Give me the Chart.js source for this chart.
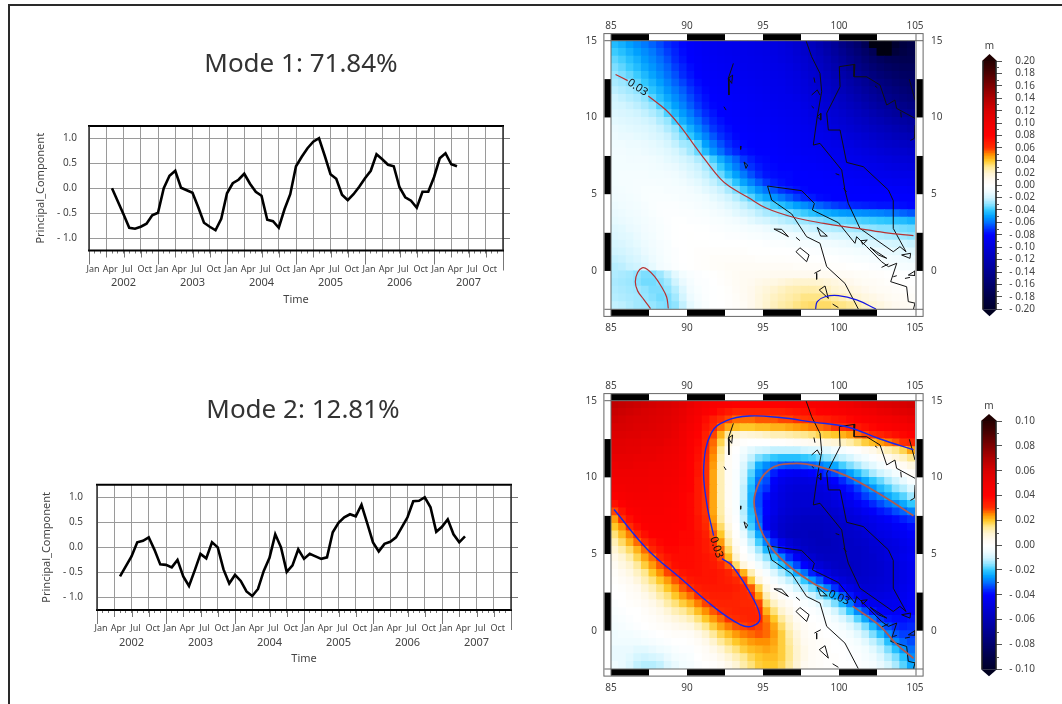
<!doctype html>
<html><head><meta charset="utf-8">
<script src="https://cdn.jsdelivr.net/npm/chart.js@4"></script>
<style>
html,body{margin:0;padding:0;background:#fff;width:1062px;height:704px;overflow:hidden}
canvas{position:absolute;display:block}
#frame{position:absolute;left:8px;top:4px;width:1100px;height:800px;border:2px solid #2a2a2a}
</style></head><body>
<div id="frame"></div>
<canvas id="pc1" width="602" height="280" style="left:0;top:40px"></canvas>
<canvas id="pc2" width="606" height="294" style="left:0;top:386px"></canvas>
<canvas id="map1" width="365" height="330" style="left:580px;top:10px"></canvas>
<canvas id="map2" width="365" height="330" style="left:580px;top:370px"></canvas>
<canvas id="bar1" width="92" height="290" style="left:970px;top:35px"></canvas>
<canvas id="bar2" width="92" height="290" style="left:970px;top:395px"></canvas>
<script>
// ---------- line chart data ----------
const titles = ["Mode 1: 71.84%", "Mode 2: 12.81%"];
const monthNames = ["Jan", "Apr", "Jul", "Oct"];
const years = [2002, 2003, 2004, 2005, 2006, 2007];
const pcTicks = [-1, -0.5, 0, 0.5, 1];
const firstMonth = 4;
const mode1PC = [0,-0.26,-0.52,-0.79,-0.81,-0.77,-0.71,-0.54,-0.49,0,0.25,0.35,0.01,-0.04,-0.09,-0.38,-0.69,-0.77,-0.84,-0.61,-0.1,0.1,0.17,0.29,0.09,-0.07,-0.15,-0.63,-0.66,-0.79,-0.42,-0.12,0.44,0.63,0.8,0.93,1,0.65,0.28,0.19,-0.13,-0.24,-0.12,0.03,0.2,0.35,0.68,0.58,0.47,0.44,0.02,-0.18,-0.25,-0.39,-0.07,-0.07,0.22,0.6,0.7,0.48,0.44];
const mode2PC = [-0.58,-0.38,-0.18,0.1,0.13,0.2,-0.05,-0.34,-0.35,-0.4,-0.25,-0.58,-0.77,-0.46,-0.13,-0.22,0.1,0,-0.44,-0.72,-0.55,-0.67,-0.88,-0.97,-0.83,-0.47,-0.21,0.26,0,-0.49,-0.36,-0.04,-0.23,-0.13,-0.18,-0.23,-0.2,0.3,0.49,0.6,0.66,0.62,0.85,0.48,0.1,-0.08,0.07,0.11,0.2,0.4,0.6,0.92,0.93,1,0.8,0.31,0.41,0.56,0.26,0.1,0.22];

// ---------- map axes ----------
const lonTicks = [85, 90, 95, 100, 105];
const latTicks = [0, 5, 10, 15];
const stripLon = [85, 87.5, 90, 92.5, 95, 97.5, 100, 102.5, 105];
const stripLat = [-2.5, 0, 2.5, 5, 7.5, 10, 12.5, 15];

// ---------- eigenvector grids (mm), rows north to south from 14.75 to -2.25, columns 85.25 to 104.75 ----------
const mode1Grid = [
[-43,-46,-50,-54,-58,-62,-66,-71,-75,-79,-82,-84,-86,-87,-88,-89,-90,-91,-92,-93,-94,-95,-97,-100,-104,-109,-115,-121,-128,-135,-145,-152,-160,-172,-205,-210,-210,-195,-185,-180],
[-39,-42,-46,-50,-54,-58,-63,-68,-73,-78,-81,-83,-85,-86,-87,-88,-89,-90,-91,-92,-93,-94,-96,-98,-102,-107,-112,-118,-125,-132,-140,-148,-155,-163,-172,-205,-205,-188,-182,-178],
[-35,-38,-42,-46,-51,-55,-60,-65,-71,-76,-80,-82,-84,-85,-86,-87,-88,-89,-90,-91,-92,-93,-95,-97,-100,-104,-109,-114,-120,-127,-135,-142,-149,-156,-163,-168,-172,-174,-175,-175],
[-32,-35,-39,-43,-48,-52,-57,-62,-68,-73,-78,-81,-83,-84,-85,-86,-87,-88,-89,-90,-91,-92,-93,-95,-98,-102,-106,-111,-117,-123,-130,-137,-144,-150,-156,-161,-165,-168,-170,-170],
[-29,-32,-35,-39,-44,-49,-54,-60,-65,-71,-76,-80,-82,-83,-84,-85,-86,-87,-88,-89,-90,-91,-92,-94,-96,-100,-104,-108,-113,-119,-125,-131,-138,-144,-150,-155,-159,-162,-165,-166],
[-26,-28,-31,-35,-40,-45,-50,-56,-62,-67,-73,-78,-81,-82,-83,-84,-85,-86,-87,-88,-89,-90,-91,-93,-95,-98,-102,-106,-110,-115,-120,-126,-132,-138,-144,-149,-153,-157,-160,-162],
[-23,-25,-27,-30,-35,-41,-46,-52,-58,-63,-69,-75,-79,-81,-82,-83,-84,-85,-86,-87,-88,-89,-90,-92,-94,-97,-100,-104,-108,-112,-117,-122,-127,-133,-138,-143,-147,-151,-155,-158],
[-20,-22,-24,-26,-30,-36,-42,-48,-54,-60,-66,-72,-77,-80,-81,-82,-83,-84,-85,-86,-87,-88,-89,-90,-92,-95,-98,-101,-105,-109,-113,-118,-123,-128,-133,-138,-142,-146,-150,-153],
[-18,-19,-21,-23,-26,-30,-37,-43,-50,-56,-63,-69,-75,-79,-80,-81,-82,-83,-84,-85,-86,-87,-88,-89,-90,-93,-96,-99,-102,-106,-110,-114,-118,-123,-128,-132,-136,-140,-144,-147],
[-16,-17,-18,-20,-22,-25,-29,-37,-44,-51,-58,-65,-71,-76,-80,-81,-82,-83,-84,-85,-85,-86,-87,-88,-89,-91,-94,-97,-100,-103,-106,-110,-114,-118,-122,-126,-130,-134,-137,-140],
[-14,-15,-16,-17,-19,-21,-25,-29,-38,-46,-53,-60,-67,-73,-77,-80,-81,-82,-83,-84,-84,-85,-86,-87,-88,-90,-92,-95,-97,-100,-103,-106,-110,-113,-117,-120,-124,-127,-130,-133],
[-12,-13,-14,-15,-16,-18,-21,-25,-30,-38,-46,-54,-62,-69,-74,-78,-80,-81,-82,-83,-83,-84,-85,-86,-87,-88,-90,-92,-95,-97,-100,-103,-106,-109,-112,-115,-118,-121,-124,-127],
[-11,-12,-12,-13,-14,-16,-18,-21,-26,-32,-40,-48,-56,-64,-70,-75,-79,-80,-81,-82,-82,-83,-84,-85,-86,-87,-88,-90,-92,-94,-96,-99,-101,-104,-107,-110,-113,-116,-118,-120],
[-10,-10,-11,-11,-12,-13,-15,-18,-22,-27,-29,-37,-50,-58,-65,-71,-76,-79,-80,-81,-81,-82,-83,-84,-85,-86,-87,-88,-90,-92,-93,-95,-98,-100,-102,-105,-107,-109,-111,-113],
[-9,-9,-10,-10,-11,-12,-13,-15,-18,-22,-27,-34,-43,-52,-60,-67,-72,-77,-79,-80,-80,-81,-82,-83,-84,-85,-85,-86,-88,-89,-90,-92,-94,-96,-98,-100,-102,-104,-105,-107],
[-8,-8,-9,-9,-9,-10,-11,-13,-15,-18,-21,-25,-30,-38,-47,-55,-62,-69,-74,-78,-79,-80,-81,-82,-82,-83,-84,-85,-86,-87,-88,-90,-91,-93,-94,-96,-97,-99,-100,-101],
[-8,-8,-8,-8,-8,-9,-10,-11,-12,-15,-18,-21,-26,-32,-40,-49,-57,-64,-70,-75,-78,-79,-80,-80,-81,-82,-82,-83,-84,-85,-86,-87,-89,-90,-91,-92,-94,-95,-96,-97],
[-8,-7,-7,-7,-7,-8,-8,-9,-10,-12,-15,-18,-22,-27,-34,-42,-50,-58,-65,-71,-76,-78,-79,-79,-80,-80,-81,-81,-82,-83,-84,-85,-86,-87,-88,-89,-90,-91,-92,-92],
[-8,-7,-7,-6,-6,-6,-7,-7,-8,-10,-12,-14,-18,-22,-27,-33,-41,-49,-56,-63,-69,-74,-77,-79,-80,-80,-80,-80,-81,-81,-82,-82,-83,-84,-85,-85,-86,-87,-87,-88],
[-9,-8,-7,-6,-5,-5,-5,-6,-6,-7,-9,-11,-14,-17,-21,-26,-32,-39,-46,-53,-59,-65,-70,-74,-77,-79,-80,-80,-80,-80,-80,-81,-81,-81,-82,-82,-82,-83,-83,-84],
[-10,-9,-8,-7,-5,-4,-4,-4,-5,-6,-7,-8,-10,-13,-16,-20,-24,-30,-36,-43,-48,-53,-58,-63,-68,-72,-75,-78,-79,-80,-80,-80,-80,-80,-80,-80,-80,-80,-81,-81],
[-11,-10,-9,-8,-6,-4,-3,-3,-3,-4,-5,-6,-8,-10,-12,-15,-18,-22,-26,-30,-34,-38,-42,-46,-50,-54,-58,-62,-65,-68,-70,-72,-73,-74,-75,-76,-76,-77,-78,-79],
[-12,-11,-10,-9,-7,-5,-3,-2,-2,-3,-3,-4,-5,-7,-9,-11,-14,-17,-20,-23,-26,-28,-30,-33,-36,-39,-42,-45,-47,-49,-51,-52,-53,-54,-55,-56,-58,-60,-62,-64],
[-13,-12,-11,-10,-8,-6,-4,-2,-1,-1,-2,-2,-3,-4,-5,-7,-9,-11,-14,-17,-19,-21,-23,-25,-27,-28,-30,-31,-33,-34,-35,-36,-37,-38,-39,-40,-41,-42,-43,-45],
[-15,-14,-12,-11,-9,-7,-5,-3,-1,0,0,-1,-1,-2,-3,-4,-5,-6,-8,-9,-11,-13,-15,-16,-18,-20,-21,-23,-24,-25,-26,-27,-28,-29,-30,-31,-31,-32,-33,-34],
[-16,-15,-14,-12,-10,-8,-5,-3,-1,0,1,0,0,-1,-1,-2,-2,-3,-4,-5,-6,-7,-8,-9,-10,-12,-13,-14,-16,-17,-18,-20,-21,-22,-23,-25,-26,-27,-28,-30],
[-18,-17,-15,-13,-11,-9,-6,-4,-1,0,1,1,1,0,0,0,0,0,-1,-1,-2,-3,-3,-4,-5,-6,-7,-8,-9,-10,-11,-12,-14,-15,-16,-17,-18,-19,-20,-21],
[-20,-19,-17,-15,-12,-10,-7,-4,-2,0,1,2,2,2,2,2,2,2,1,1,1,0,0,0,-1,-1,-2,-3,-4,-5,-6,-7,-8,-9,-10,-11,-12,-13,-14,-15],
[-22,-21,-19,-17,-14,-11,-8,-5,-2,0,1,2,3,4,4,4,4,4,4,3,3,3,3,2,2,1,1,0,0,-1,-2,-3,-4,-5,-6,-7,-8,-9,-10,-11],
[-24,-23,-21,-20,-17,-13,-9,-6,-3,-1,1,2,3,4,5,6,6,6,6,6,6,6,6,6,5,5,4,4,3,2,2,1,0,-1,-2,-3,-4,-5,-6,-7],
[-25,-26,-27,-30,-32,-32,-28,-22,-14,-8,-4,-2,-1,1,3,5,7,8,8,9,9,10,10,10,10,10,10,9,9,8,7,6,5,4,3,2,1,0,-1,-2],
[-26,-27,-28,-31,-33,-33,-31,-27,-20,-12,-7,-3,-2,0,2,4,7,9,10,12,13,14,16,18,20,20,20,19,17,15,13,11,9,7,6,5,3,2,1,0],
[-25,-26,-27,-28,-30,-32,-32,-30,-24,-16,-9,-5,-2,-1,1,3,6,9,11,14,17,20,22,24,25,26,26,25,22,19,17,15,13,11,9,7,6,4,3,2],
[-24,-25,-26,-27,-29,-31,-33,-32,-27,-19,-11,-6,-3,-1,1,2,5,8,11,15,19,22,24,26,28,31,31,31,30,27,24,21,18,15,13,11,9,7,6,5],
[-22,-23,-25,-27,-28,-29,-31,-32,-30,-22,-13,-8,-4,-1,0,2,4,7,11,15,20,23,26,28,31,33,34,34,34,32,31,29,26,22,18,15,12,10,8,7]
];
const mode2Grid = [
[66,65,64,63,62,61,60,59,57,55,52,49,46,44,43,42,41,40,40,40,40,41,41,42,42,43,44,45,46,47,49,50,52,54,55,57,58,59,60,61],
[64,63,62,61,60,59,58,57,55,53,50,47,43,40,37,35,33,33,33,33,33,34,34,35,36,37,38,40,41,43,44,46,47,49,50,52,53,55,56,57],
[62,61,60,59,59,58,57,56,54,52,48,44,38,34,31,29,27,27,27,28,28,28,29,29,30,31,32,33,34,36,37,39,41,43,44,46,47,49,50,52],
[60,60,59,58,58,57,56,55,53,50,46,42,36,32,27,23,21,20,20,21,21,22,22,23,24,25,26,27,28,30,31,33,35,37,39,41,42,44,45,47],
[58,58,57,57,56,56,55,54,52,49,44,40,34,29,22,14,10,8,9,10,11,12,12,13,14,15,16,18,19,20,22,24,27,29,31,33,35,37,39,41],
[56,56,55,55,54,54,54,52,51,48,43,39,33,27,18,8,3,1,0,0,0,1,1,2,3,4,5,6,8,9,11,13,16,19,21,24,26,28,30,32],
[55,55,54,54,53,53,52,51,50,47,42,38,32,26,15,4,0,-4,-7,-9,-10,-11,-11,-11,-11,-10,-9,-8,-7,-5,-3,-1,1,4,6,9,12,15,18,23],
[53,53,53,52,52,52,51,50,49,46,41,37,31,25,13,3,-1,-6,-11,-16,-18,-20,-21,-21,-21,-20,-19,-17,-15,-13,-11,-9,-6,-4,-1,2,5,8,11,15],
[51,52,52,51,51,50,50,49,48,45,40,36,30,24,12,3,-1,-8,-15,-23,-27,-30,-32,-33,-33,-32,-31,-29,-26,-24,-19,-16,-13,-10,-7,-4,-1,1,4,7],
[50,50,50,50,50,49,49,48,47,44,40,36,30,23,12,3,-2,-9,-18,-27,-31,-37,-40,-42,-43,-42,-40,-38,-35,-33,-29,-25,-21,-17,-13,-10,-7,-4,-1,2],
[48,49,49,49,49,48,48,47,46,43,40,35,30,23,12,3,-2,-10,-20,-30,-33,-41,-45,-47,-48,-48,-47,-45,-43,-40,-36,-32,-28,-24,-20,-17,-13,-10,-6,-2],
[46,47,48,48,48,47,47,46,45,42,40,35,30,23,12,3,-2,-11,-22,-32,-35,-43,-47,-49,-50,-50,-50,-49,-47,-45,-41,-38,-34,-30,-26,-22,-19,-15,-12,-8],
[43,45,46,47,47,46,46,45,44,41,39,35,30,23,12,3,-2,-11,-23,-33,-39,-45,-48,-50,-51,-51,-51,-50,-49,-47,-44,-41,-38,-34,-31,-28,-24,-21,-18,-14],
[37,41,44,45,45,45,45,44,43,40,39,35,30,23,13,3,-2,-12,-23,-33,-40,-46,-49,-51,-52,-52,-52,-52,-51,-49,-47,-45,-42,-39,-36,-33,-30,-27,-24,-20],
[29,36,41,43,44,44,44,43,42,40,39,35,30,23,13,4,-2,-12,-22,-32,-40,-46,-50,-52,-53,-54,-54,-54,-53,-52,-50,-48,-46,-43,-41,-38,-36,-33,-31,-28],
[24,30,37,41,43,43,43,43,42,40,39,36,31,24,14,5,-1,-11,-21,-31,-42,-48,-52,-54,-55,-56,-56,-56,-55,-54,-52,-50,-49,-47,-45,-43,-41,-39,-37,-35],
[20,25,31,37,41,42,42,42,41,40,39,36,32,26,17,7,0,-9,-19,-29,-42,-49,-53,-55,-56,-57,-57,-57,-56,-55,-54,-53,-51,-49,-47,-45,-44,-42,-41,-39],
[16,21,26,31,37,40,41,41,41,39,39,37,34,28,20,10,1,-6,-15,-24,-35,-46,-53,-56,-57,-57,-58,-58,-57,-56,-55,-54,-53,-51,-49,-47,-46,-44,-43,-41],
[12,17,22,27,31,36,39,40,40,39,39,37,35,31,24,13,3,-3,-11,-19,-28,-36,-44,-50,-54,-56,-57,-58,-58,-57,-56,-55,-54,-53,-51,-50,-48,-47,-45,-43],
[9,13,17,22,27,32,36,39,39,38,38,37,35,32,27,17,6,0,-7,-14,-22,-30,-38,-45,-50,-54,-56,-57,-57,-57,-56,-55,-55,-54,-52,-51,-49,-48,-46,-44],
[6,9,13,18,23,27,32,36,38,38,38,37,36,34,29,21,10,2,-3,-9,-15,-21,-28,-35,-42,-48,-52,-55,-56,-56,-56,-55,-55,-54,-53,-51,-49,-47,-45,-43],
[4,7,10,14,19,24,28,33,37,38,38,37,36,35,32,28,17,8,2,-4,-9,-15,-21,-27,-33,-40,-46,-50,-53,-55,-56,-56,-55,-54,-53,-52,-50,-48,-46,-44],
[2,5,7,11,15,20,25,29,33,36,37,37,36,36,35,33,29,22,12,3,-3,-8,-13,-18,-24,-30,-37,-43,-48,-52,-54,-55,-55,-54,-53,-52,-50,-48,-46,-44],
[1,3,5,8,12,16,20,24,28,31,35,36,36,36,35,34,32,29,19,8,2,-3,-7,-11,-15,-20,-26,-32,-39,-45,-49,-52,-53,-53,-52,-51,-50,-48,-46,-44],
[0,1,3,5,9,12,16,20,24,28,31,34,35,35,35,35,34,32,28,18,7,2,-2,-5,-9,-13,-17,-22,-28,-35,-41,-46,-49,-51,-51,-50,-49,-47,-45,-43],
[0,0,2,3,6,9,13,16,20,24,27,30,33,34,34,34,33,32,31,24,12,6,2,-1,-3,-6,-10,-14,-19,-25,-32,-38,-44,-47,-48,-48,-47,-46,-44,-42],
[-1,0,1,2,4,6,9,13,16,19,22,26,29,32,33,33,33,32,32,29,17,11,6,3,0,-2,-4,-7,-11,-16,-22,-29,-36,-41,-44,-45,-45,-44,-43,-41],
[-2,-1,0,0,2,4,6,9,12,14,17,21,25,28,31,32,33,33,33,32,22,16,10,6,2,0,-1,-3,-5,-9,-14,-20,-27,-33,-38,-41,-42,-42,-41,-40],
[-3,-2,-1,0,1,2,4,6,8,10,12,16,20,24,27,30,31,32,33,33,26,20,14,9,4,1,0,-1,-2,-5,-8,-12,-18,-24,-30,-35,-38,-39,-39,-38],
[-4,-3,-2,-1,0,1,2,3,5,6,7,11,15,19,23,26,28,29,30,29,27,23,17,11,6,3,1,0,-1,-2,-4,-7,-11,-16,-22,-28,-33,-36,-37,-36],
[-5,-4,-4,-3,-2,-1,0,1,2,2,3,6,10,14,18,21,24,26,27,28,27,24,19,13,8,4,2,1,0,-1,-2,-4,-7,-11,-16,-21,-27,-32,-34,-34],
[-5,-5,-5,-5,-4,-3,-2,-1,0,0,1,3,6,10,14,17,20,22,24,25,25,23,19,14,9,5,3,2,1,0,-1,-2,-4,-7,-11,-15,-21,-27,-31,-33],
[-6,-6,-6,-7,-7,-6,-5,-4,-2,-1,-1,1,3,6,9,13,16,19,21,22,23,22,19,15,10,6,3,2,1,0,0,-1,-2,-4,-7,-11,-16,-21,-26,-30],
[-6,-6,-7,-9,-10,-9,-8,-6,-4,-3,-2,0,2,3,6,9,12,15,18,20,21,21,19,15,10,6,3,2,1,1,0,-1,-1,-3,-5,-8,-12,-16,-21,-27],
[-5,-6,-8,-11,-12,-12,-11,-8,-6,-4,-3,-1,0,1,3,6,9,13,16,19,20,20,18,14,9,5,3,2,1,1,0,0,-1,-2,-3,-6,-9,-13,-18,-24]
];

// ---------- coastlines, null breaks the line ----------
const coastLon = [95.3,95.57,96.89,97.87,98.75,99.19,100.39,101.27,null,
95.3,97.54,98.38,98.25,99.96,101.05,101.16,101.82,102.8,103.25,103.8,103.4,104.45,104.56,105,104.9,null,
97.83,98.2,98.75,98.86,98.57,98.31,98.75,100.18,100.39,100.61,101.38,103.57,104.01,104.41,103.57,103.57,103.25,101.6,100.5,100.07,99.3,99.19,100.07,100.02,101.05,100.99,101.82,102.7,103.14,103.68,103.79,105,null,
93.05,92.72,92.76,null,92.72,93,92.94,92.72,null,92.43,92.57,null,93.55,93.53,null,93.75,93.99,93.88,93.75,null,
104.63,105,null,105,104.96,104.7,null,98.35,98.42,null,98.2,98.57,98.75,null,98.2,98.35,null,98.57,98.8,98.8,98.57,null,102.37,102.52,null,104.06,104.1,null,99.78,100.02,null,100.29,100.5,null,
95.72,96.23,96.67,96.12,95.72,null,97.17,97.43,null,98.57,99.23,98.79,98.57,null,97.17,97.43,98.03,97.87,97.17,null,98.38,98.8,null,98.53,98.53,null,98.7,99.08,99.3,98.7,null,99.58,99.96,null,
101.45,101.86,101.56,101.45,null,102.04,102.48,103.14,102.59,102.04,null,104.12,104.71,104.67,104.12,null,104.56,105,105,104.56,null,102.8,103.25,null,104.34,104.67,null,103.57,103.8];
const coastLat = [5.53,4.62,3.71,2.23,1.8,0.28,-0.81,-2.48,null,
5.53,5.23,4.4,3.97,3.14,1.8,2.23,1.58,0.6,0.28,0.5,-0.7,-1.03,-2,-2.1,-2.48,null,
15,13.96,12.87,11.68,10.05,8.2,8.31,6.57,5.27,4.4,2.77,1.25,1.58,1.25,2.77,4.58,5.27,6.79,7.07,9.18,9.18,10.27,12,13.31,13.46,12.65,12.65,12.11,10.81,11.13,10.59,9.94,null,
13.52,12.55,11.46,null,12.55,12.76,12.22,12.55,null,10.7,10.48,null,8.14,7.92,null,7.1,6.9,6.68,7.1,null,
12.48,11.13,null,9.5,8.64,8.5,null,12.6,12.26,null,11.46,11.79,11.46,null,10.74,10.6,null,10.05,10.27,9.83,10.05,null,12.05,11.94,null,10.37,10,null,6.34,6.25,null,5.38,5.16,null,
2.73,2.71,2.23,2.53,2.73,null,2.19,1.97,null,2.84,2.27,2.27,2.84,null,1.25,1.51,1.04,0.6,1.25,null,-0.16,0.06,null,-0.16,-0.55,null,-1.24,-0.98,-1.79,-1.24,null,-2.16,-2.39,null,
1.97,2.01,1.73,1.97,null,1.54,1.25,0.82,1.04,1.54,null,1.04,1.15,0.82,1.04,null,-0.27,0,-0.3,-0.27,null,0.23,0.45,null,-0.49,-0.42,null,-0.38,-0.31];

// ---------- contours ----------
const m1RedLon = [85.3,86.1,null,87.45,88.6,89.5,90.4,91.3,92.2,92.8,94,95.2,97,99,101,103,104.9,null,87.6,87.15,86.75,86.6,86.75,87.05,87.4,87.9,88.3,88.66,88.77];
const m1RedLat = [12.8,12.4,null,11.4,10.5,9.5,8.3,7.1,6,5.5,4.8,4.1,3.5,3.1,2.8,2.5,2.3,null,-2.45,-1.85,-1.3,-0.7,-0.1,0.2,0.1,-0.4,-1,-1.7,-2.45];
const m1BlueLon = [98.46,98.57,99.08,99.96,101.16,102.43];
const m1BlueLat = [-2.48,-2,-1.68,-1.61,-1.89,-2.48];
const m2BlueLon = [85.2,87.4,89.6,91.7,93.5,94.3,94.8,94.4,93,92.3,null,91.75,91.3,91.1,91.6,92.6,94.1,96.1,98.3,100.5,102.7,104.9];
const m2BlueLat = [7.9,5.3,3.4,1.6,0.4,0.3,0.8,2,4.2,4.7,null,6.2,8.3,10.7,12.9,13.7,14,13.9,13.6,13.3,12.5,11.8];
const m2RedLon = [104.9,102.7,100.5,98.7,97,95.4,94.5,94.5,95.2,96.5,98.3,99.3,null,100.9,102.7,103.8,104.9];
const m2RedLat = [7.5,8.9,10.1,10.7,10.9,10.5,9,7.7,5.9,4.4,3.1,2.6,null,1.6,0.3,-0.9,-1.8];
const m1Labels = [{text:"0.03", lon:86.75, lat:11.95, angle:33}];
const m2Labels = [{text:"0.03", lon:91.93, lat:5.43, angle:72},{text:"0.03", lon:100, lat:2.15, angle:24}];

// ---------- colour bars ----------
const unitLabel = "m";
const bar1Ticks = [-0.2,-0.18,-0.16,-0.14,-0.12,-0.1,-0.08,-0.06,-0.04,-0.02,0,0.02,0.04,0.06,0.08,0.1,0.12,0.14,0.16,0.18,0.2];
const bar2Ticks = [-0.1,-0.08,-0.06,-0.04,-0.02,0,0.02,0.04,0.06,0.08,0.1];
const stopVals = [-1,-0.9,-0.8,-0.7,-0.6,-0.5,-0.4,-0.35,-0.3,-0.25,-0.2,-0.15,-0.1,-0.05,0,0.05,0.1,0.15,0.2,0.25,0.3,0.4,0.5,0.6,0.7,0.8,0.9,1];
const stopCols = ["#000028","#000048","#00006c","#000090","#0000b4","#0000d8","#0000ff","#0030ff","#0070ff","#00a0ff","#30c8ff","#90e4ff","#d0f4ff","#f0fcff","#ffffff","#fffaf0","#fff4d0","#ffe890","#ffc828","#ff9000","#ff3000","#ff0000","#f00000","#d80000","#b00000","#800000","#4d0000","#280000"];

const FONT = '"Noto Sans","Open Sans","DejaVu Sans",sans-serif';
const INK = "#444";
Chart.defaults.font.family = FONT;
Chart.defaults.color = INK;
Chart.defaults.animation = false;
Chart.defaults.events = [];
Chart.defaults.plugins.legend.display = false;
Chart.defaults.plugins.tooltip.enabled = false;

const hex = h => [1,3,5].map(i => parseInt(h.slice(i,i+2),16));
const stopRgb = stopCols.map(hex);
function colourOf(n){
  if (n <= -1) return n < -1.02 ? "#000010" : stopCols[0];
  if (n >= 1) return stopCols[stopCols.length-1];
  let i = 0;
  while (i < stopVals.length-2 && n > stopVals[i+1]) i++;
  const t = (n-stopVals[i])/(stopVals[i+1]-stopVals[i]);
  const a = stopRgb[i], b = stopRgb[i+1];
  return `rgb(${a.map((c,k)=>Math.round(c+(b[k]-c)*t)).join(",")})`;
}
const fixedTicks = arr => s => { s.ticks = arr.map(value => ({value})); };
const zip = (xs,ys) => xs.map((x,i) => ({x, y: ys[i]}));
const minus = s => s.replace("-", "- ");

// ---------- principal component line charts ----------
function pcChart(id, title, series, g){
  const monthTicks = Array.from({length:73},(_,i)=>i);
  const decor = {
    id:"pcDecor",
    afterDraw(c){
      const {ctx, chartArea:a, scales} = c;
      ctx.save();
      ctx.strokeStyle = "#777"; ctx.lineWidth = 1;
      ctx.beginPath();
      for (const v of pcTicks){ const y = Math.round(scales.y.getPixelForValue(v))+0.5; ctx.moveTo(a.right,y); ctx.lineTo(a.right+7,y); }
      for (const v of monthTicks){
        if (v%3) continue;
        const x = Math.round(scales.x.getPixelForValue(v))+0.5;
        const len = v===72 ? 20 : v%12===0 ? 14 : 7;
        ctx.moveTo(x,a.bottom); ctx.lineTo(x,a.bottom+len);
      }
      ctx.stroke();
      ctx.strokeStyle = "#000"; ctx.lineWidth = 2;
      ctx.beginPath(); ctx.moveTo(a.left-1,a.top); ctx.lineTo(a.right+1,a.top); ctx.moveTo(a.left-1,a.bottom); ctx.lineTo(a.right+1,a.bottom); ctx.stroke();
      ctx.lineWidth = 1.4; ctx.strokeStyle="#222";
      ctx.beginPath(); ctx.moveTo(a.left,a.top); ctx.lineTo(a.left,a.bottom); ctx.moveTo(a.right,a.top); ctx.lineTo(a.right,a.bottom); ctx.stroke();
      ctx.restore();
    }
  };
  return new Chart(document.getElementById(id),{
    type:"scatter",
    plugins:[decor],
    data:{datasets:[{data:series.map((y,i)=>({x:firstMonth+i,y})),showLine:true,borderColor:"#000",borderWidth:2.6,pointRadius:0,tension:0,borderJoinStyle:"miter",xAxisID:"x",yAxisID:"y"}]},
    options:{
      responsive:false,
      layout:{padding:0},
      plugins:{title:{display:true,text:title,color:"#333",font:{size:26,weight:"normal"},padding:{top:g.titleTop,bottom:g.titleBottom}}},
      scales:{
        x:{type:"linear",position:"bottom",min:0,max:72,
          afterBuildTicks:fixedTicks(monthTicks),
          afterFit:s=>{s.height=26;},
          border:{display:false},
          grid:{color:c=>c.tick&&c.tick.value%3===0?"#9a9a9a":"rgba(0,0,0,0)",tickColor:"#777",tickLength:3,lineWidth:1},
          ticks:{autoSkip:false,maxRotation:0,minRotation:0,labelOffset:4,padding:10.5,font:{size:9},color:INK,
            callback:v=>(v%3===0&&v<72)?monthNames[(v%12)/3]:""}},
        xYear:{type:"linear",position:"bottom",min:0,max:72,
          afterBuildTicks:fixedTicks(years.map((_,i)=>6+12*i)),
          afterFit:s=>{s.height=g.yearH;},
          border:{display:false},grid:{display:false,drawTicks:false},
          ticks:{autoSkip:false,maxRotation:0,padding:0,font:{size:11},color:INK,callback:v=>String(years[(v-6)/12])},
          title:{display:true,text:"Time",color:INK,font:{size:11},padding:{top:0,bottom:g.timeBottom}}},
        y:{type:"linear",position:"left",min:-g.yMax,max:g.yMax,
          afterBuildTicks:fixedTicks(pcTicks),
          afterFit:s=>{s.width=g.left;},
          border:{display:false},
          grid:{color:"#9a9a9a",drawTicks:false,lineWidth:1},
          ticks:{padding:g.tickPad,font:{size:10},color:INK,callback:v=>minus(v.toFixed(1))},
          title:{display:true,text:"Principal_Component",color:INK,font:{size:11},padding:{top:g.axisTitle,bottom:0}}},
        rightGap:{type:"linear",position:"right",min:0,max:1,afterFit:s=>{s.width=g.padRight;},border:{display:false},grid:{display:false,drawTicks:false},ticks:{display:false}}
      }
    }
  });
}
pcChart("pc1",titles[0],mode1PC,{padRight:99,titleTop:9.4,titleBottom:45.4,yearH:43.5,timeBottom:14,yMax:1.245,left:89,tickPad:12,axisTitle:34});
pcChart("pc2",titles[1],mode2PC,{padRight:95,titleTop:9.4,titleBottom:58.1,yearH:44,timeBottom:15,yMax:1.25,left:97,tickPad:14,axisTitle:40});

// ---------- maps ----------
function mapChart(id, grid, maxV, contours, labels, g){
  const cells = [];
  grid.forEach((row,r)=>row.forEach((v,c)=>cells.push({x:85.25+0.5*c,y:14.75-0.5*r,v:v/1000})));
  const decor = {
    id:"mapDecor",
    afterDatasetsDraw(ch){
      const {ctx, chartArea:a, scales:{x,y}} = ch;
      const w = 6.6;
      ctx.save();
      for (let i=0;i<stripLon.length-1;i++){
        ctx.fillStyle = i%2 ? "#fff" : "#000";
        const x0=x.getPixelForValue(stripLon[i]), x1=x.getPixelForValue(stripLon[i+1]);
        ctx.fillRect(x0,a.top-w,x1-x0,w); ctx.fillRect(x0,a.bottom,x1-x0,w);
      }
      for (let i=0;i<stripLat.length-1;i++){
        ctx.fillStyle = i%2 ? "#000" : "#fff";
        const y0=y.getPixelForValue(stripLat[i+1]), y1=y.getPixelForValue(stripLat[i]);
        ctx.fillRect(a.left-w,y0,w,y1-y0); ctx.fillRect(a.right+1.5,y0,w,y1-y0);
      }
      ctx.strokeStyle="#666"; ctx.lineWidth=1;
      ctx.strokeRect(a.left-w-0.5,a.top-w-0.5,a.width+2*w+2,a.height+2*w+1);
      ctx.beginPath();
      ctx.moveTo(a.left-w,a.top); ctx.lineTo(a.right+w+1.5,a.top);
      ctx.moveTo(a.left-w,a.bottom); ctx.lineTo(a.right+w+1.5,a.bottom);
      ctx.moveTo(a.left,a.top-w); ctx.lineTo(a.left,a.bottom+w);
      ctx.moveTo(a.right+1,a.top-w); ctx.lineTo(a.right+1,a.bottom+w);
      ctx.stroke();
      ctx.fillStyle="#111"; ctx.font=`11px ${FONT}`; ctx.textAlign="center"; ctx.textBaseline="middle";
      for (const l of labels){
        ctx.save();
        ctx.translate(x.getPixelForValue(l.lon),y.getPixelForValue(l.lat));
        ctx.rotate(l.angle*Math.PI/180);
        ctx.fillText(l.text,0,0);
        ctx.restore();
      }
      ctx.restore();
    }
  };
  const lineSet = (xs,ys,col,w,ord,t)=>({data:zip(xs,ys),showLine:true,spanGaps:false,borderColor:col,borderWidth:w,pointRadius:0,tension:t,order:ord});
  return new Chart(document.getElementById(id),{
    type:"scatter",
    plugins:[decor],
    data:{datasets:[
      ...contours.map(c=>lineSet(c.lon,c.lat,c.color,c.width,1,0.4)),
      lineSet(coastLon,coastLat,"#111",1,2,0),
      {data:cells,pointStyle:"rect",pointRadius:6,pointBorderWidth:0,borderWidth:0,backgroundColor:c=>colourOf(c.raw.v/maxV),order:3}
    ]},
    options:{
      responsive:false,
      layout:{padding:0},
      scales:{
        x:{type:"linear",position:"bottom",min:85,max:105,afterBuildTicks:fixedTicks(lonTicks),afterFit:s=>{s.height=g.bottom;},border:{display:false},
          grid:{drawOnChartArea:false,tickLength:7,tickColor:"rgba(0,0,0,0)"},ticks:{autoSkip:false,maxRotation:0,padding:6,font:{size:10},color:INK,callback:v=>String(v)}},
        xTop:{type:"linear",position:"top",min:85,max:105,afterBuildTicks:fixedTicks(lonTicks),afterFit:s=>{s.height=g.top;},border:{display:false},
          grid:{drawOnChartArea:false,tickLength:7,tickColor:"rgba(0,0,0,0)"},ticks:{autoSkip:false,maxRotation:0,padding:2,font:{size:10},color:INK,callback:v=>String(v)}},
        y:{type:"linear",position:"left",min:-2.5,max:15,afterBuildTicks:fixedTicks(latTicks),afterFit:s=>{s.width=31;},border:{display:false},
          grid:{drawOnChartArea:false,tickLength:8,tickColor:"rgba(0,0,0,0)"},ticks:{autoSkip:false,padding:6,font:{size:10},color:INK,callback:v=>String(v)}},
        yRight:{type:"linear",position:"right",min:-2.5,max:15,afterBuildTicks:fixedTicks(latTicks),afterFit:s=>{s.width=30;},border:{display:false},
          grid:{drawOnChartArea:false,tickLength:8,tickColor:"rgba(0,0,0,0)"},ticks:{autoSkip:false,padding:8,font:{size:10},color:INK,callback:v=>String(v)}}
      }
    }
  });
}
mapChart("map1",mode1Grid,0.2,[
  {lon:m1RedLon,lat:m1RedLat,color:"#b83232",width:1.2},
  {lon:m1BlueLon,lat:m1BlueLat,color:"#1414e6",width:1.2}
],m1Labels,{top:30.7,bottom:30.7});
mapChart("map2",mode2Grid,0.1,[
  {lon:m2BlueLon,lat:m2BlueLat,color:"#1428f0",width:1.4},
  {lon:m2RedLon,lat:m2RedLat,color:"#b05a50",width:1.8}
],m2Labels,{top:30.7,bottom:31});

// ---------- colour bars ----------
function barChart(id, ticks, maxV, pad){
  const minor = ticks.slice(0,-1).map((t,i)=>(t+ticks[i+1])/2);
  const n = 160, sets = [];
  for (let i=0;i<n;i++){
    const lo=-maxV+2*maxV*i/n, hi=-maxV+2*maxV*(i+1.4)/n;
    sets.push({data:[[lo,Math.min(hi,maxV)]],backgroundColor:colourOf((lo+maxV/n)/maxV),grouped:false,barPercentage:1,categoryPercentage:1,borderWidth:0,order:n-i});
  }
  const decor = {
    id:"barDecor",
    afterDatasetsDraw(c){
      const {ctx, chartArea:a, scales:{y}} = c;
      const mid=(a.left+a.right)/2, t=y.getPixelForValue(maxV), b=y.getPixelForValue(-maxV);
      ctx.save();
      ctx.strokeStyle="#222"; ctx.lineWidth=1.6;
      ctx.beginPath(); ctx.moveTo(a.left,t); ctx.lineTo(a.left,b); ctx.moveTo(a.right,t); ctx.lineTo(a.right,b); ctx.stroke();
      ctx.fillStyle="#200000"; ctx.beginPath(); ctx.moveTo(a.left-1,t); ctx.lineTo(mid,t-7); ctx.lineTo(a.right+1,t); ctx.closePath(); ctx.fill(); 
      ctx.fillStyle="#000020"; ctx.beginPath(); ctx.moveTo(a.left-1,b); ctx.lineTo(mid,b+7); ctx.lineTo(a.right+1,b); ctx.closePath(); ctx.fill();
      ctx.strokeStyle="#555"; ctx.lineWidth=1; ctx.beginPath();
      for (const m of minor){ const py=Math.round(y.getPixelForValue(m))+0.5; ctx.moveTo(a.right,py); ctx.lineTo(a.right+3,py); }
      ctx.stroke();
      ctx.fillStyle=INK; ctx.font=`10px ${FONT}`; ctx.textAlign="center"; ctx.textBaseline="middle";
      ctx.fillText(unitLabel,mid,a.top-15);
      ctx.restore();
    }
  };
  return new Chart(document.getElementById(id),{
    type:"bar",
    plugins:[decor],
    data:{labels:[unitLabel],datasets:sets},
    options:{
      responsive:false,
      layout:{padding:pad},
      plugins:{title:{display:false}},
      scales:{
        x:{type:"category",display:false,offset:true,grid:{display:false}},
        y:{type:"linear",position:"right",min:-maxV,max:maxV,afterBuildTicks:fixedTicks(ticks),afterFit:s=>{s.width=39;},border:{display:false},
          grid:{drawOnChartArea:false,tickLength:6,tickColor:"#555"},
          ticks:{autoSkip:false,padding:7,crossAlign:"far",font:{size:10},color:INK,callback:v=>minus(v.toFixed(2))}}
      }
    },
  });
}
barChart("bar1",bar1Ticks,0.2,{left:13,top:26,bottom:15.7,right:27});
barChart("bar2",bar2Ticks,0.1,{left:12,top:26,bottom:15.7,right:27});
</script>
</body></html>
